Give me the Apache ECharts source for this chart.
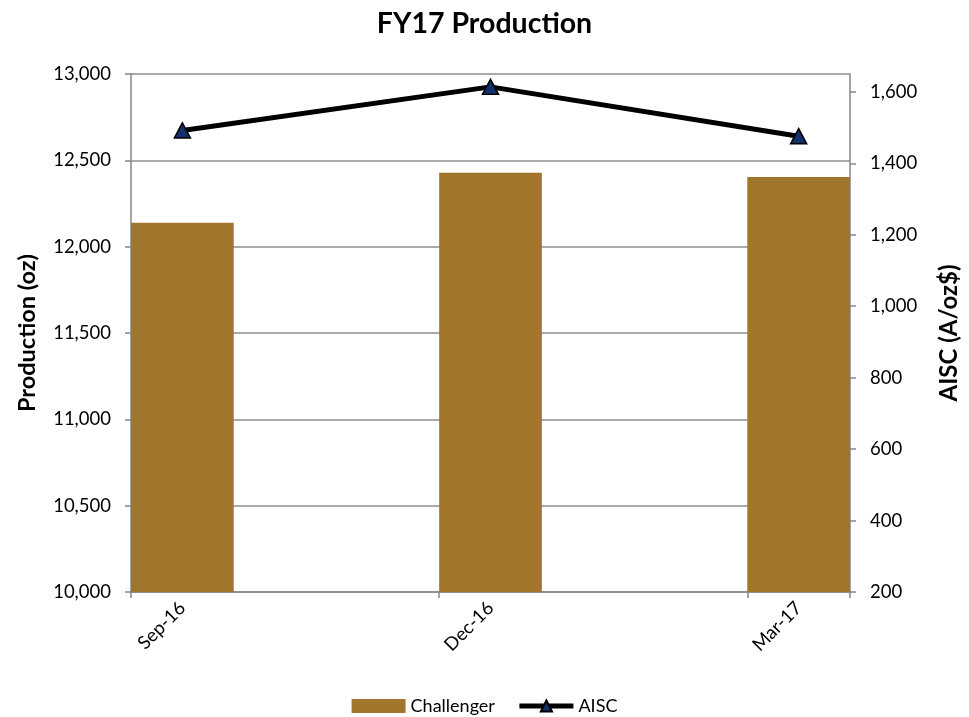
<!DOCTYPE html>
<html>
<head>
<meta charset="utf-8">
<script src="https://cdn.jsdelivr.net/npm/echarts@6/dist/echarts.min.js"></script>
<style>
  html, body { margin: 0; padding: 0; background: #ffffff; }
  #chart { width: 969px; height: 717px; }
</style>
</head>
<body>
<div id="chart"></div>
<script>
// Monthly slots of the date axis (bars sit on quarter-end months)
const axisMonths = ['Sep-16', 'Oct-16', 'Nov-16', 'Dec-16', 'Jan-17', 'Feb-17', 'Mar-17'];
const periods = ['Sep-16', 'Dec-16', 'Mar-17'];
const production = [12138, 12428, 12404];   // oz
const aisc = [1492, 1614, 1476];            // A$/oz
const aiscTicks = [200, 400, 600, 800, 1000, 1200, 1400, 1600];

const FONT = 'Lato, Carlito, Calibri, "Open Sans", sans-serif';
const AXIS_GREY = '#868686';

const chart = echarts.init(document.getElementById('chart'));
chart.setOption({
  backgroundColor: '#ffffff',
  animation: false,
  textStyle: { fontFamily: FONT },
  title: {
    text: 'FY17 Production',
    left: 'center',
    top: 4,
    textStyle: { fontFamily: FONT, fontSize: 28.5, fontWeight: 'bold', color: '#000' }
  },
  legend: {
    bottom: -3,
    left: 'center',
    itemGap: 22,
    itemWidth: 54,
    itemHeight: 14,
    textStyle: { fontFamily: FONT, fontSize: 18, color: '#000' },
    data: [
      { name: 'Challenger', icon: 'rect' },
      { name: 'AISC', lineStyle: { width: 5, color: '#000' } }
    ]
  },
  grid: { left: 131, right: 115, top: 74, bottom: 125, containLabel: false },
  xAxis: {
    type: 'category',
    data: axisMonths,
    boundaryGap: true,
    axisLine: { lineStyle: { color: AXIS_GREY, width: 1.5 } },
    axisTick: { show: true, interval: 2, alignWithLabel: false, length: 6, lineStyle: { color: AXIS_GREY, width: 1.5 } },
    axisLabel: { interval: 2, rotate: 45, margin: 13, fontFamily: FONT, fontSize: 18.5, color: '#000' },
    splitLine: { show: false }
  },
  yAxis: [
    {
      type: 'value',
      name: 'Production (oz)',
      nameLocation: 'middle',
      nameRotate: 90,
      nameGap: 92,
      nameTextStyle: { fontFamily: FONT, fontSize: 23.5, fontWeight: 'bold', color: '#000' },
      min: 10000,
      max: 13000,
      interval: 500,
      axisLine: { show: true, lineStyle: { color: AXIS_GREY, width: 1.5 } },
      axisTick: { show: true, length: 6, lineStyle: { color: AXIS_GREY, width: 1.5 } },
      axisLabel: {
        margin: 20,
        fontFamily: FONT, fontSize: 18.5, color: '#000',
        formatter: v => v.toLocaleString('en-US')
      },
      splitLine: { show: true, lineStyle: { color: '#8c8c8c', width: 1.5 } }
    },
    {
      type: 'value',
      name: 'AISC (A/oz$)',
      nameLocation: 'middle',
      nameRotate: 90,
      nameGap: 87,
      nameTextStyle: { fontFamily: FONT, fontSize: 24, fontWeight: 'bold', color: '#000' },
      min: 200,
      max: 1650,
      interval: 200,
      position: 'right',
      axisLine: { show: true, lineStyle: { color: AXIS_GREY, width: 1.5 } },
      axisTick: { show: true, length: 6, customValues: aiscTicks, lineStyle: { color: AXIS_GREY, width: 1.5 } },
      axisLabel: {
        margin: 20,
        showMaxLabel: false,
        fontFamily: FONT, fontSize: 18.5, color: '#000',
        formatter: v => (aiscTicks.includes(v) ? v.toLocaleString('en-US') : '')
      },
      splitLine: { show: false }
    }
  ],
  series: [
    {
      name: 'Challenger',
      type: 'bar',
      yAxisIndex: 0,
      barWidth: '100%',
      itemStyle: { color: '#a1762c' },
      data: periods.map((p, i) => [p, production[i]]),
      z: 2
    },
    {
      name: 'AISC',
      type: 'line',
      yAxisIndex: 1,
      symbol: 'triangle',
      symbolSize: [16, 15],
      lineStyle: { color: '#000000', width: 5 },
      itemStyle: { color: '#12306b', borderColor: '#000000', borderWidth: 1.5 },
      data: periods.map((p, i) => [p, aisc[i]]),
      z: 5
    }
  ]
});
</script>
</body>
</html>
